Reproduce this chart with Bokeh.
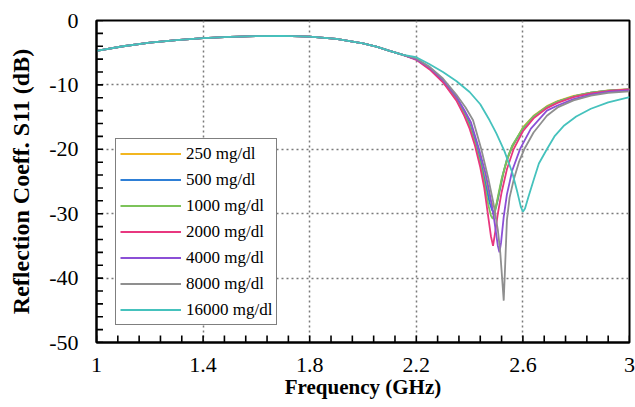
import math
from bokeh.plotting import figure
from bokeh.models import Range1d, FixedTicker, Legend
from bokeh.embed import file_html
from bokeh.resources import INLINE

# ---- data ----
x_ticks = [1.0, 1.4, 1.8, 2.2, 2.6, 3.0]
x_tick_labels = ["1", "1.4", "1.8", "2.2", "2.6", "3"]
y_ticks = [-50, -40, -30, -20, -10, 0]
y_tick_labels = ["-50", "-40", "-30", "-20", "-10", "0"]

# shared low-frequency part (all curves overlap)
f_base = [1.0, 1.1, 1.2, 1.3, 1.4, 1.5, 1.6, 1.7, 1.8, 1.9, 2.0, 2.05, 2.1, 2.15]
s_base = [-4.7, -4.0, -3.45, -3.05, -2.75, -2.55, -2.42, -2.38, -2.5, -2.85, -3.55, -4.05, -4.7, -5.35]

labels = ["250 mg/dl", "500 mg/dl", "1000 mg/dl", "2000 mg/dl",
          "4000 mg/dl", "8000 mg/dl", "16000 mg/dl"]
colors = ["#f2b620", "#2e7fd6", "#7cc35a", "#e8377f", "#8b4fd6", "#8f8f8f", "#45c2bd"]

f_250 = [2.2, 2.25, 2.3, 2.35, 2.38, 2.4, 2.42, 2.44, 2.46, 2.475, 2.488, 2.497, 2.505, 2.515, 2.53, 2.545, 2.559, 2.6, 2.64, 2.69, 2.73, 2.79, 2.855, 2.92, 3.0]
s_250 = [-6.0, -7.4, -9.3, -11.9, -14.1, -15.9, -18.3, -21.3, -24.8, -27.5, -28.8, -29.0, -28.0, -26.0, -23.2, -21.2, -19.8, -16.6, -14.8, -13.3, -12.5, -11.7, -11.2, -10.85, -10.65]

f_500 = [2.2, 2.25, 2.3, 2.35, 2.38, 2.4, 2.42, 2.44, 2.46, 2.475, 2.485, 2.492, 2.5, 2.51, 2.525, 2.54, 2.56, 2.6, 2.64, 2.69, 2.73, 2.79, 2.855, 2.92, 3.0]
s_500 = [-6.0, -7.4, -9.4, -12.0, -14.3, -16.1, -18.6, -21.7, -25.5, -28.3, -29.5, -29.8, -28.9, -26.9, -23.9, -21.6, -19.5, -16.8, -14.9, -13.4, -12.6, -11.8, -11.2, -10.9, -10.7]

f_1000 = [2.2, 2.25, 2.3, 2.35, 2.38, 2.4, 2.42, 2.44, 2.455, 2.47, 2.48, 2.487, 2.495, 2.505, 2.52, 2.54, 2.56, 2.6, 2.64, 2.69, 2.73, 2.79, 2.855, 2.92, 3.0]
s_1000 = [-6.0, -7.5, -9.5, -12.2, -14.5, -16.4, -19.0, -22.2, -25.3, -28.6, -30.3, -30.8, -29.8, -27.6, -24.6, -21.6, -19.4, -16.7, -14.9, -13.4, -12.6, -11.8, -11.2, -10.9, -10.7]

f_2000 = [2.2, 2.25, 2.3, 2.35, 2.38, 2.4, 2.42, 2.44, 2.455, 2.47, 2.48, 2.488, 2.497, 2.506, 2.52, 2.54, 2.565, 2.6, 2.64, 2.69, 2.73, 2.79, 2.855, 2.92, 3.0]
s_2000 = [-6.1, -7.6, -9.6, -12.4, -14.8, -16.8, -19.4, -22.8, -26.0, -30.5, -33.5, -35.0, -32.6, -30.0, -26.7, -23.1, -20.0, -17.2, -15.2, -13.6, -12.8, -11.9, -11.3, -10.95, -10.7]

f_4000 = [2.2, 2.25, 2.3, 2.35, 2.38, 2.405, 2.435, 2.46, 2.475, 2.49, 2.5, 2.506, 2.512, 2.518, 2.528, 2.54, 2.56, 2.59, 2.63, 2.69, 2.73, 2.79, 2.855, 2.92, 3.0]
s_4000 = [-6.0, -7.3, -9.2, -11.8, -13.9, -15.8, -19.9, -23.8, -26.8, -30.3, -33.2, -35.0, -36.0, -34.5, -30.5, -27.0, -23.3, -19.9, -16.8, -14.0, -13.2, -12.2, -11.5, -11.1, -10.85]

f_8000 = [2.2, 2.25, 2.3, 2.35, 2.385, 2.413, 2.444, 2.47, 2.49, 2.506, 2.515, 2.522, 2.528, 2.532, 2.54, 2.55, 2.565, 2.585, 2.605, 2.64, 2.69, 2.73, 2.79, 2.855, 2.92, 3.0]
s_8000 = [-5.9, -7.2, -9.0, -11.5, -13.5, -15.5, -20.0, -24.5, -28.5, -32.5, -36.0, -40.0, -43.5, -39.5, -31.0, -27.5, -24.8, -22.0, -20.0, -17.4, -14.8, -13.5, -12.4, -11.65, -11.25, -11.0]

f_16000 = [2.2, 2.25, 2.3, 2.35, 2.4, 2.44, 2.475, 2.5, 2.53, 2.56, 2.58, 2.592, 2.6, 2.608, 2.62, 2.64, 2.66, 2.69, 2.72, 2.755, 2.8, 2.855, 2.92, 3.0]
s_16000 = [-5.7, -6.8, -8.0, -9.4, -11.1, -13.0, -15.5, -17.5, -20.2, -23.6, -26.8, -28.9, -29.7, -29.2, -27.5, -24.8, -22.2, -20.0, -17.9, -16.3, -14.9, -13.7, -12.7, -11.9]

series_f = [f_250, f_500, f_1000, f_2000, f_4000, f_8000, f_16000]
series_s = [s_250, s_500, s_1000, s_2000, s_4000, s_8000, s_16000]

x_min, x_max = 1.0, 3.0
y_min, y_max = -50, 0
x_minor_step = 0.08
y_minor_step = 2

FONT = "Liberation Serif"

p = figure(width=635, height=407, output_backend="svg", toolbar_location=None,
           x_range=Range1d(x_min, x_max), y_range=Range1d(y_min, y_max),
           min_border_left=96, min_border_right=6, min_border_top=20, min_border_bottom=65)
p.background_fill_color = "white"
p.border_fill_color = "white"
p.outline_line_color = "black"
p.outline_line_width = 2

p.xaxis.ticker = FixedTicker(ticks=x_ticks)
p.yaxis.ticker = FixedTicker(ticks=y_ticks)
p.xaxis.major_label_overrides = dict(zip(x_ticks, x_tick_labels))
p.yaxis.major_label_overrides = dict(zip(y_ticks, y_tick_labels))

for ax in (p.xaxis[0], p.yaxis[0]):
    ax.axis_line_color = "black"
    ax.axis_line_width = 2
    ax.major_tick_in = 0
    ax.major_tick_out = 0
    ax.minor_tick_in = 0
    ax.minor_tick_out = 0
    ax.major_label_text_font = FONT
    ax.major_label_text_font_size = "22px"
    ax.major_label_text_color = "black"
    ax.axis_label_text_font = FONT
    ax.axis_label_text_font_style = "bold"
    ax.axis_label_text_color = "black"

p.xaxis.axis_label = "Frequency (GHz)"
p.yaxis.axis_label = "Reflection Coeff. S11 (dB)"
p.xaxis.axis_label_text_font_size = "21px"
p.yaxis.axis_label_text_font_size = "24px"
p.xaxis.major_label_standoff = 15
p.xaxis.axis_label_standoff = 0
p.yaxis.major_label_standoff = 18
p.yaxis.axis_label_standoff = 12

for g in (p.xgrid[0], p.ygrid[0]):
    g.grid_line_color = "#7a7a7a"
    g.grid_line_dash = "2 3"
    g.grid_line_width = 1.5
p.xgrid.ticker = FixedTicker(ticks=x_ticks)
p.ygrid.ticker = FixedTicker(ticks=y_ticks)

renderers = []
for lab, col, fs, ss in zip(labels, colors, series_f, series_s):
    r = p.line(f_base + fs, s_base + ss, line_color=col, line_width=1.8)
    renderers.append((lab, [r]))

# inward ticks: dash markers centred on the frame edge (outer half is clipped)
n_x = int(round((x_max - x_min) / x_minor_step))
n_y = int(round((y_max - y_min) / y_minor_step))
x_tick_pos = [x_min + x_minor_step * i for i in range(n_x + 1)]
y_tick_pos = [y_min + y_minor_step * i for i in range(n_y + 1)]
p.scatter(x_tick_pos, [y_min] * len(x_tick_pos), marker="dash", size=14,
          angle=math.pi / 2, line_color="black", line_width=1.6)
p.scatter([x_min] * len(y_tick_pos), y_tick_pos, marker="dash", size=13,
          line_color="black", line_width=1.6)

legend = Legend(items=renderers, location=(19, 17))
legend.label_text_font = FONT
legend.label_text_font_size = "17px"
legend.label_text_color = "black"
legend.border_line_color = "black"
legend.border_line_width = 1.5
legend.background_fill_color = "white"
legend.background_fill_alpha = 1.0
legend.padding = 4
legend.spacing = 5
legend.glyph_width = 61
legend.glyph_height = 21
legend.label_height = 21
legend.label_standoff = 5
legend.margin = 0
p.add_layout(legend, "center")

open("out.html", "w").write(file_html(p, INLINE))
